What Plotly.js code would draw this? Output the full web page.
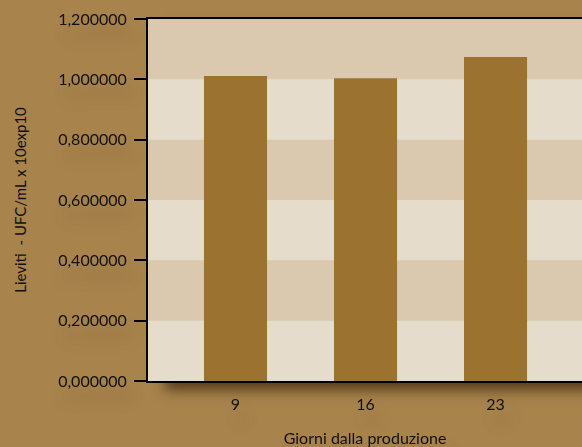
<!DOCTYPE html>
<html><head><meta charset="utf-8">
<script src="https://cdn.plot.ly/plotly-3.0.1.min.js"></script>
<style>
html,body{margin:0;padding:0;background:#a8834c;overflow:hidden;}
#wrap{position:relative;width:582px;height:447px;}
#shadow{position:absolute;left:165px;top:19px;width:440px;height:362px;box-shadow:0 9px 12px rgba(60,38,10,0.75);}
#chart{position:absolute;left:0;top:0;width:582px;height:447px;}
.ytick text,.xtick text,.g-xtitle text{filter:drop-shadow(6px 14px 7px rgba(90,60,20,0.3));}
</style></head><body>
<div id="wrap"><div id="shadow"></div><div id="chart"></div></div>
<script>
const categories = ['9', '16', '23'];
const lieviti = [1.011, 1.004, 1.074];
const yTicks = [0, 0.2, 0.4, 0.6, 0.8, 1.0, 1.2];
const darkBands = [[0.2, 0.4], [0.6, 0.8], [1.0, 1.2]];

const shapes = darkBands.map(b => ({
  type: 'rect', xref: 'paper', yref: 'y', x0: 0, x1: 1, y0: b[0], y1: b[1],
  fillcolor: '#dac9ae', line: {width: 0}, layer: 'below'
}));

const data = [{
  type: 'bar', x: categories, y: lieviti,
  marker: {color: '#9b7230', line: {width: 0}},
  width: 0.485, hoverinfo: 'none'
}];
const font = {family: 'Lato, sans-serif', size: 16, color: '#111'};
const titleFontY = {family: 'Lato, sans-serif', size: 15, color: '#111'};
const layout = {
  width: 582, height: 447,
  margin: {l: 148, r: 0, t: 19, b: 66},
  paper_bgcolor: 'rgba(0,0,0,0)', plot_bgcolor: '#e6dccb',
  separators: ',.',
  font: font,
  showlegend: false,
  shapes: shapes,
  xaxis: {
    type: 'category', range: [-0.673, 2.665],
    showline: true, linecolor: '#000', linewidth: 2, mirror: true,
    ticks: '', showgrid: false, zeroline: false,
    tickfont: font, ticklabelstandoff: 8,
    title: {text: 'Giorni dalla produzione', font: font, standoff: 25}
  },
  yaxis: {
    range: [0, 1.2], tickvals: yTicks, tickformat: '.6f',
    showline: true, linecolor: '#000', linewidth: 2, mirror: false,
    ticks: 'outside', ticklen: 12, tickwidth: 2, tickcolor: '#000',
    showgrid: false, zeroline: false,
    tickfont: font, ticklabelstandoff: 4,
    title: {text: 'Lieviti  - UFC/mL x 10exp10', font: titleFontY, standoff: 28}
  }
};
Plotly.newPlot('chart', data, layout, {staticPlot: true, displayModeBar: false});
</script></body></html>
